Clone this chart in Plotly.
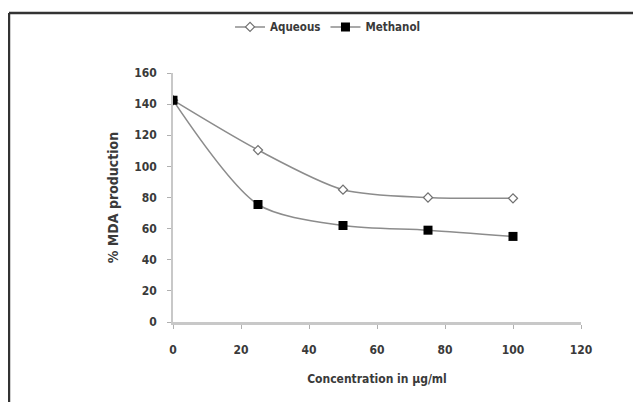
import plotly.graph_objects as go

conc = [0, 25, 50, 75, 100]
aqueous = [142.5, 110.5, 85, 80, 79.5]
methanol = [142.5, 75.5, 62, 59, 55]

x_ticks = [0, 20, 40, 60, 80, 100, 120]
y_ticks = [0, 20, 40, 60, 80, 100, 120, 140, 160]

FONT = "DejaVu Sans Condensed, Liberation Sans Narrow, sans-serif"
LINE = "#8c8c8c"
TXT = "#3a3a3a"

fig = go.Figure()
fig.add_trace(go.Scatter(
    x=conc, y=aqueous, name="Aqueous", mode="lines+markers",
    line=dict(color=LINE, width=1.5, shape="spline", smoothing=0.8),
    marker=dict(symbol="diamond", size=7, color="white", line=dict(color="#707070", width=1.2)),
))
fig.add_trace(go.Scatter(
    x=conc, y=methanol, name="Methanol", mode="lines+markers",
    line=dict(color=LINE, width=1.5, shape="spline", smoothing=0.8),
    marker=dict(symbol="square", size=9, color="black", line=dict(color="black", width=0)),
))

fig.update_layout(
    width=633, height=394,
    margin=dict(l=165, r=60, t=65, b=80, autoexpand=False),
    paper_bgcolor="white", plot_bgcolor="white",
    font=dict(family=FONT, size=11, color=TXT),
    showlegend=True,
    legend=dict(orientation="h", x=0.38, y=1.185, xanchor="center", yanchor="middle",
                bgcolor="rgba(0,0,0,0)",
                font=dict(family=FONT, size=11.5, color=TXT, weight="bold"),
                itemwidth=30, tracegroupgap=0),
    xaxis=dict(range=[0, 120], tickvals=x_ticks, ticks="outside", ticklen=4, tickcolor="#b0b0b0",
               showline=True, linecolor="#c8c8c8", linewidth=2.5, showgrid=False, zeroline=False,
               automargin=False, ticklabelstandoff=11,
               tickfont=dict(family=FONT, size=12, color=TXT, weight="bold"),
               title=dict(text="Concentration in µg/ml", standoff=19,
                          font=dict(family=FONT, size=12, color=TXT, weight="bold"))),
    yaxis=dict(range=[0, 160], tickvals=y_ticks, ticks="outside", ticklen=4, tickcolor="#b0b0b0",
               showline=True, linecolor="#c8c8c8", linewidth=1.5, showgrid=False, zeroline=False,
               automargin=False, ticklabelstandoff=8,
               tickfont=dict(family=FONT, size=12, color=TXT, weight="bold"),
               title=dict(text="% MDA production", standoff=12,
                          font=dict(family=FONT, size=14, color=TXT, weight="bold"))),
)

# chart-area border (top and left edges visible)
fig.add_shape(type="line", xref="paper", yref="paper", x0=-0.402, x1=1.2, y0=1.241, y1=1.241,
              line=dict(color="#333333", width=2.5))
fig.add_shape(type="line", xref="paper", yref="paper", x0=-0.402, x1=-0.402, y0=1.241, y1=-0.35,
              line=dict(color="#333333", width=2.5))

fig.write_html("out.html")
